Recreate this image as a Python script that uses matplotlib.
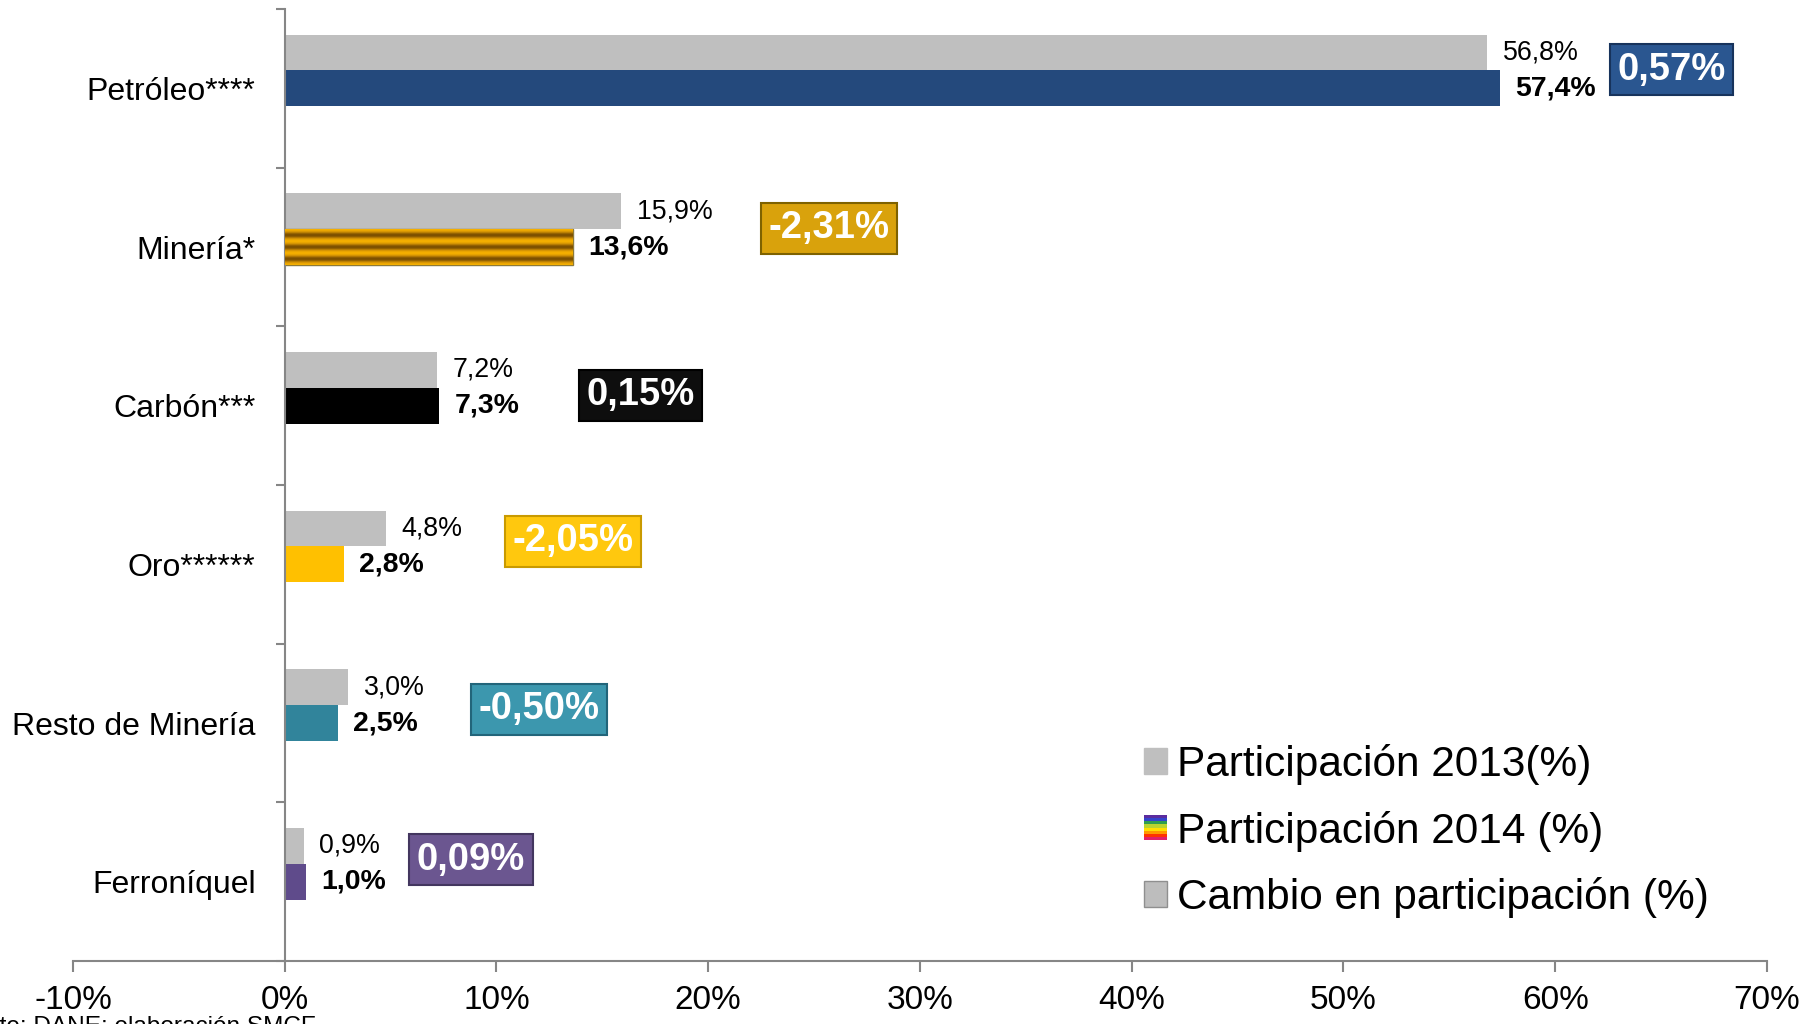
import numpy as np
import matplotlib
matplotlib.use("Agg")
import matplotlib.pyplot as plt
from matplotlib.patches import Patch, Rectangle
from matplotlib.legend_handler import HandlerBase
from matplotlib.colors import LinearSegmentedColormap

plt.rcParams['font.family'] = ['Liberation Sans', 'DejaVu Sans']

# data
categories = ["Petróleo****", "Minería*", "Carbón***", "Oro******", "Resto de Minería", "Ferroníquel"]
part_2013 = [56.8, 15.9, 7.2, 4.8, 3.0, 0.9]
part_2014 = [57.4, 13.6, 7.3, 2.8, 2.5, 1.0]
cambio = [0.57, -2.31, 0.15, -2.05, -0.50, 0.09]

# styles / layout
colors_2014 = ["#24497C", "#E89A0C", "#000000", "#FFC000", "#31849B", "#5F4B8B"]
box_face = ["#2A5690", "#D9A20C", "#0E0E0E", "#FFC80E", "#3C97AE", "#6B5690"]
box_edge = ["#17335C", "#7E6200", "#000000", "#C99A00", "#22657A", "#43365F"]
box_x = [65.5, 25.7, 16.8, 13.6, 12.0, 8.8]
box_dy = [-0.117, -0.117, -0.066, -0.146, -0.087, -0.138]
gray = "#BFBFBF"
axis_gray = "#868686"
bh = 0.226


def fmt(v, nd):
    return f"{v:.{nd}f}%".replace(".", ",")


class StripeHandler(HandlerBase):
    def __init__(self, colors):
        super().__init__()
        self.colors = colors

    def create_artists(self, legend, orig_handle, xdescent, ydescent,
                       width, height, fontsize, trans):
        n = len(self.colors)
        arts = []
        for i, c in enumerate(self.colors):
            r = Rectangle((-xdescent, -ydescent + height * (n - 1 - i) / n),
                          width, height / n, facecolor=c, edgecolor='none',
                          transform=trans)
            arts.append(r)
        return arts


fig = plt.figure(figsize=(18.16, 10.24), dpi=100)
ax = fig.add_axes([0.0402, 0.0615, 0.9328, 0.9297])

y = np.arange(len(categories))
b13 = ax.barh(y - bh, part_2013, height=bh, color=gray, zorder=2)
b14 = ax.barh(y, part_2014, height=bh, color=colors_2014, zorder=2)

# striped texture for the Minería 2014 bar
stripe_cmap = LinearSegmentedColormap.from_list("gold", ["#7A4E00", "#C98A05", "#F6B000"])
tex = np.cos(np.linspace(0, 6 * np.pi, 90)).reshape(-1, 1)
bar = b14.patches[1]
im = ax.imshow(tex, cmap=stripe_cmap, aspect='auto', interpolation='bilinear',
               extent=(0, part_2014[1], 1 + bh / 2, 1 - bh / 2), zorder=3)
im.set_clip_path(bar)
bar.set_edgecolor("#8C7A3A")
bar.set_linewidth(1)

ax.bar_label(b13, labels=[fmt(v, 1) for v in part_2013], padding=11, fontsize=19.3)
ax.bar_label(b14, labels=[fmt(v, 1) for v in part_2014], padding=11, fontsize=20.4,
             fontweight='bold')

for i, v in enumerate(cambio):
    ax.text(box_x[i], y[i] + box_dy[i], fmt(v, 2), ha='center', va='center',
            fontsize=27.5, fontweight='bold', color='white', zorder=5,
            bbox=dict(boxstyle='square,pad=0.2', facecolor=box_face[i],
                      edgecolor=box_edge[i], linewidth=1.5))

ax.set_xlim(-10, 70)
ax.set_ylim(len(categories) - 0.5, -0.5)
ax.set_xticks(np.arange(-10, 71, 10))
ax.set_xticklabels([f"{t}%" for t in range(-10, 71, 10)])
ax.set_yticks(np.arange(-0.5, len(categories), 1))
ax.set_yticklabels([])
ax.set_yticks(y, minor=True)
ax.set_yticklabels(categories, minor=True)
ax.tick_params(axis='x', length=8, width=1.5, color=axis_gray, labelsize=24, pad=9.5)
ax.tick_params(axis='y', which='major', length=6.5, width=1.5, color=axis_gray)
ax.tick_params(axis='y', which='minor', length=0, labelsize=23, pad=21)

for s in ['top', 'right']:
    ax.spines[s].set_visible(False)
ax.spines['left'].set_position(('data', 0))
for s in ['left', 'bottom']:
    ax.spines[s].set_color(axis_gray)
    ax.spines[s].set_linewidth(1.5)

rainbow = ["#5B2C9F", "#3344CC", "#2E9E4F", "#B8D430", "#FFE000", "#FF9900", "#FF3300", "#E0206A"]
h13 = Patch(facecolor=gray, edgecolor=gray)
h14 = Patch(facecolor=rainbow[0])
hch = Patch(facecolor="#BDBDBD", edgecolor="#8F8F8F")
ax.legend([h13, h14, hch],
          ["Participación 2013(%)", "Participación 2014 (%)", "Cambio en participación (%)"],
          handler_map={h14: StripeHandler(rainbow)},
          loc='center left', bbox_to_anchor=(1144 / 1816, 1 - 831 / 1024),
          bbox_transform=fig.transFigure, frameon=False, fontsize=30.5,
          handlelength=0.55, handleheight=0.55, handletextpad=0.24,
          labelspacing=0.6, borderpad=0, borderaxespad=0)

fig.text(316 / 1816, -9 / 1024, "Fuente: DANE; elaboración SMCF", ha='right',
         va='baseline', fontsize=17.6)

fig.savefig("out.png", dpi=100)
